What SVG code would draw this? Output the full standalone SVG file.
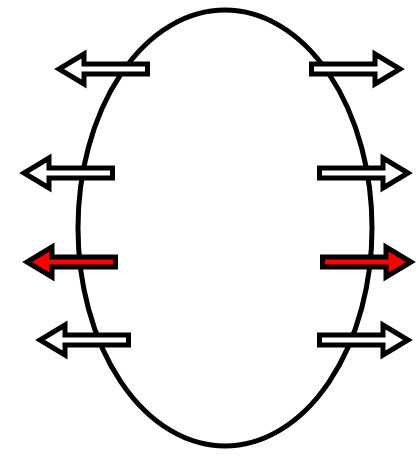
<svg xmlns="http://www.w3.org/2000/svg" width="420" height="456" viewBox="0 0 420 456">
<style>
.arrow{fill:#fff;stroke:#000;stroke-width:5;stroke-linejoin:miter;stroke-miterlimit:10}
.red{fill:#ff0000}
.body{fill:none;stroke:#000;stroke-width:5}
</style>
<defs>
<path id="arr" d="M2.5,-5 H66 V-15 L91,0 L66,15 V5 H2.5 Z"/>
</defs>
<g id="connectors"></g>
<g id="ellipse"><ellipse class="body" cx="225" cy="228" rx="147" ry="218"/></g>
<g id="arrow-l1"><use href="#arr" class="arrow" transform="translate(150,69) scale(-1,1)"/></g>
<g id="arrow-r1"><use href="#arr" class="arrow" transform="translate(309,69)"/></g>
<g id="arrow-l2"><use href="#arr" class="arrow" transform="translate(115,173) scale(-1,1)"/></g>
<g id="arrow-r2"><use href="#arr" class="arrow" transform="translate(317,173)"/></g>
<g id="arrow-l3"><use href="#arr" class="arrow red" transform="translate(118,262) scale(-1,1)"/></g>
<g id="arrow-r3"><use href="#arr" class="arrow red" transform="translate(320,262)"/></g>
<g id="arrow-l4"><use href="#arr" class="arrow" transform="translate(131,340) scale(-1,1)"/></g>
<g id="arrow-r4"><use href="#arr" class="arrow" transform="translate(317,340)"/></g>
</svg>
